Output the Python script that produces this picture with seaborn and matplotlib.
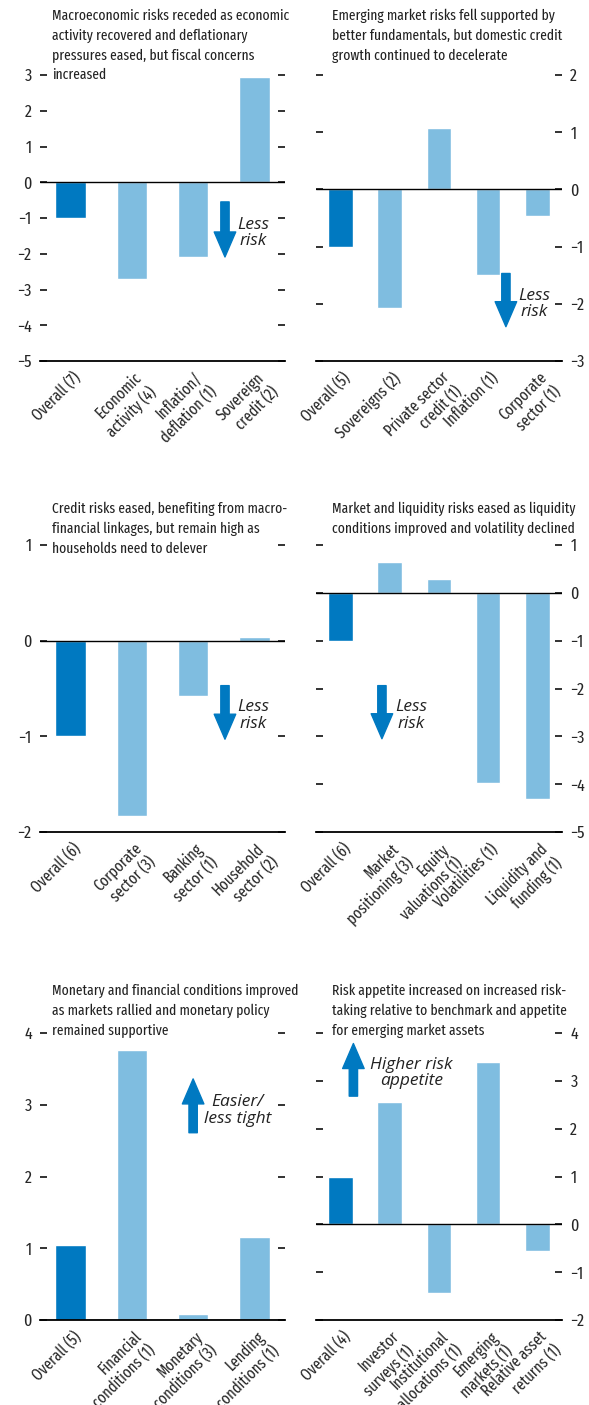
import numpy as np
import pandas as pd
import matplotlib
matplotlib.use('Agg')
import matplotlib.pyplot as plt
import seaborn as sns

sns.set_style('white')
plt.rcParams['font.family'] = ['Fira Sans Extra Condensed', 'Fira Sans Condensed', 'Archivo Narrow', 'DejaVu Sans']

dark = '#0079C1'
light = '#7FBDE0'

# panel data
p1_cats = ['Overall (7)', 'Economic\nactivity (4)', 'Inflation/\ndeflation (1)', 'Sovereign\ncredit (2)']
p1_vals = [-1.0, -2.70, -2.08, 2.95]
p2_cats = ['Overall (5)', 'Sovereigns (2)', 'Private sector\ncredit (1)', 'Inflation (1)', 'Corporate\nsector (1)']
p2_vals = [-1.0, -2.07, 1.07, -1.49, -0.46]
p3_cats = ['Overall (6)', 'Corporate\nsector (3)', 'Banking\nsector (1)', 'Household\nsector (2)']
p3_vals = [-1.0, -1.83, -0.58, 0.035]
p4_cats = ['Overall (6)', 'Market\npositioning (3)', 'Equity\nvaluations (1)', 'Volatilities (1)', 'Liquidity and\nfunding (1)']
p4_vals = [-1.0, 0.65, 0.28, -3.97, -4.30]
p5_cats = ['Overall (5)', 'Financial\nconditions (1)', 'Monetary\nconditions (3)', 'Lending\nconditions (1)']
p5_vals = [1.04, 3.76, 0.09, 1.15]
p6_cats = ['Overall (4)', 'Investor\nsurveys (1)', 'Institutional\nallocations (1)', 'Emerging\nmarkets (1)', 'Relative asset\nreturns (1)']
p6_vals = [0.99, 2.56, -1.44, 3.40, -0.55]

titles = [
    'Macroeconomic risks receded as economic\nactivity recovered and deflationary\npressures eased, but fiscal concerns\nincreased',
    'Emerging market risks fell supported by\nbetter fundamentals, but domestic credit\ngrowth continued to decelerate',
    'Credit risks eased, benefiting from macro-\nfinancial linkages, but remain high as\nhouseholds need to delever',
    'Market and liquidity risks eased as liquidity\nconditions improved and volatility declined',
    'Monetary and financial conditions improved\nas markets rallied and monetary policy\nremained supportive',
    'Risk appetite increased on increased risk-\ntaking relative to benchmark and appetite\nfor emerging market assets',
]
ylims = [(-5, 3), (-3, 2), (-2, 1), (-5, 1), (0, 4), (-2, 4)]
arrow_notes = ['Less\nrisk', 'Less\nrisk', 'Less\nrisk', 'Less\nrisk', 'Easier/\nless tight', 'Higher risk\nappetite']
# arrow: x, y start, y end ; note: x, y
arrow_pos = [(2.52, -0.55, -2.09), (3.36, -1.47, -2.40), (2.52, -0.47, -1.03),
             (0.84, -1.94, -3.05), (2.0, 2.61, 3.36), (0.26, 2.68, 3.78)]
note_pos = [(2.98, -1.42), (3.94, -2.0), (2.98, -0.78), (1.44, -2.56), (2.73, 2.92), (1.44, 3.16)]

panels = [(p1_cats, p1_vals), (p2_cats, p2_vals), (p3_cats, p3_vals),
          (p4_cats, p4_vals), (p5_cats, p5_vals), (p6_cats, p6_vals)]

W, H = 589, 1405
fig = plt.figure(figsize=(W / 100, H / 100), dpi=100)

# axes boxes in pixels: left, top, right, bottom
boxes = [(40, 75, 285, 361), (316, 75, 562, 361),
         (40, 545, 285, 832), (316, 545, 562, 832),
         (40, 1033, 285, 1320), (316, 1033, 562, 1320)]
title_xy = [(52, 9), (332, 9), (52, 502), (332, 502), (52, 984), (332, 984)]

for i, (cats, vals) in enumerate(panels):
    l, t, r, b = boxes[i]
    ax = fig.add_axes([l / W, 1 - b / H, (r - l) / W, (b - t) / H])
    n = len(cats)
    df = pd.DataFrame({'cat': cats, 'val': vals})
    pal = [dark] + [light] * (n - 1)
    sns.barplot(data=df, x='cat', y='val', hue='cat', palette=pal, legend=False,
                width=0.5, saturation=1, ax=ax)
    ax.set_xlim(-0.5, n - 0.5)
    lo, hi = ylims[i]
    ax.set_ylim(lo, hi)
    ax.axhline(0, color='black', lw=1.0, zorder=3)

    for s in ['top', 'left', 'right']:
        ax.spines[s].set_visible(False)
    ax.spines['bottom'].set_color('black')
    ax.spines['bottom'].set_linewidth(1.3)

    # boundary ticks on the axis, labels near each bar centre
    ax.set_xticks(np.arange(-0.5, n, 1.0), labels=[''] * (n + 1))
    ax.set_xticks(np.arange(n) + 0.03, labels=cats, minor=True)
    ax.tick_params(axis='x', which='major', direction='in', length=6, width=1.3, color='black')
    ax.tick_params(axis='x', which='minor', length=0, pad=6, labelsize=11.5)
    for lab in ax.get_xticklabels(minor=True):
        lab.set_rotation(45)
        lab.set_ha('right')
        lab.set_va('top')
        lab.set_rotation_mode('anchor')
        lab.set_multialignment('right')
        lab.set_linespacing(1.2)

    ax.set_yticks(np.arange(lo, hi + 0.5, 1))
    left_side = (i % 2 == 0)
    ax.tick_params(axis='y', direction='in', length=5, width=1.3, color='#222222',
                   left=True, right=True, labelleft=left_side, labelright=not left_side,
                   labelsize=12.5, pad=6)
    ax.set_xlabel('')
    ax.set_ylabel('')
    ax.set_facecolor('none')

    x0, y0, y1 = arrow_pos[i]
    ax.annotate('', xy=(x0, y1), xytext=(x0, y0),
                arrowprops=dict(arrowstyle='simple,head_length=1.8,head_width=1.55,tail_width=0.6',
                                color=dark, shrinkA=0, shrinkB=0, mutation_scale=10))
    nx, ny = note_pos[i]
    ax.text(nx, ny, arrow_notes[i], ha='center', va='center', style='italic',
            fontsize=12.5, linespacing=1.05, color='#222222',
            family=['Open Sans', 'DejaVu Sans'])

    tx, ty = title_xy[i]
    fig.text(tx / W, 1 - ty / H, titles[i], ha='left', va='top', fontsize=10.6,
             linespacing=1.47, color='#222222')

fig.savefig('out.png', dpi=100)
